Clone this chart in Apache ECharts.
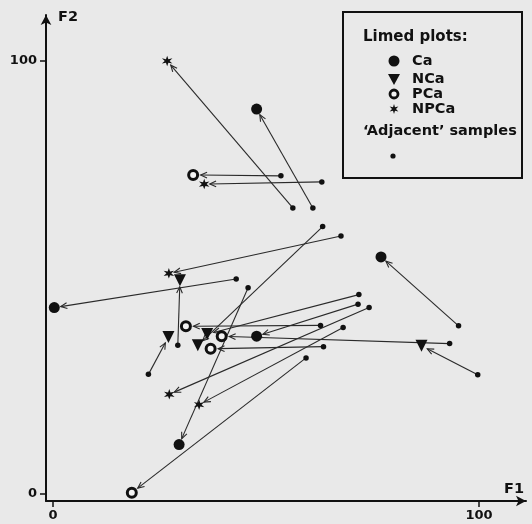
<!DOCTYPE html>
<html><head><meta charset="utf-8">
<script src="https://cdn.jsdelivr.net/npm/echarts@6/dist/echarts.min.js"></script>
<style>html,body{margin:0;padding:0;background:#e9e9e9}#c{width:532px;height:524px}</style>
</head><body><div id="c"></div>
<script>
// [F1, F2] of each 'adjacent' sample and of the corresponding limed plot
const caAdjacent   = [[61.0,66.0],[43.0,49.6],[45.8,47.6],[95.2,38.8],[71.6,43.8]];
const caLimed      = [[47.8,88.8],[0.3,43.0],[29.6,11.4],[77.0,54.7],[47.8,36.4]];
const nCaAdjacent  = [[29.3,34.3],[22.4,27.6],[99.7,27.5],[63.3,61.7],[71.8,46.0]];
const nCaLimed     = [[29.8,49.3],[27.1,36.2],[86.5,34.2],[34.0,34.3],[36.2,36.9]];
const pCaAdjacent  = [[53.5,73.4],[93.1,34.7],[62.8,38.9],[63.5,34.0],[59.4,31.4]];
const pCaLimed     = [[32.9,73.6],[39.6,36.4],[31.2,38.7],[37.0,33.5],[18.5,0.3]];
const npCaAdjacent = [[56.3,66.0],[63.1,72.0],[67.6,59.5],[74.2,43.0],[68.1,38.4]];
const npCaLimed    = [[26.8,99.9],[35.5,71.5],[27.2,50.9],[27.3,23.0],[34.3,20.6]];
const treatmentNames = ['Ca','NCa','PCa','NPCa'];
const xTicks = [0, 100];
const yTicks = [0, 100];

const INK = '#111';
const FONT = '"DejaVu Sans", sans-serif';

// six-point star vertices
function starPoints(cx, cy, R){
  const pts = [];
  for (let i = 0; i < 12; i++) {
    const r = i % 2 === 0 ? R : R*0.4;
    const a = -Math.PI/2 + i * Math.PI/6;
    pts.push([cx + r*Math.cos(a), cy + r*Math.sin(a)]);
  }
  return pts;
}
const STAR = 'path://' + starPoints(10,10,10).map((p,i)=>(i?'L':'M')+p[0].toFixed(2)+' '+p[1].toFixed(2)).join(' ') + ' Z';

const groups = [
  {adj: caAdjacent, lim: caLimed, gap: 6.5},
  {adj: nCaAdjacent, lim: nCaLimed, gap: 6.5},
  {adj: pCaAdjacent, lim: pCaLimed, gap: 7.5},
  {adj: npCaAdjacent, lim: npCaLimed, gap: 5.5}
];
const arrowData = [];
groups.forEach(g => g.adj.forEach((a, i) => {
  arrowData.push([a[0], a[1], g.lim[i][0], g.lim[i][1], g.gap]);
}));
const allAdjacent = [].concat(caAdjacent, nCaAdjacent, pCaAdjacent, npCaAdjacent);

function renderArrow(params, api){
  const p1 = api.coord([api.value(0), api.value(1)]);
  const p2 = api.coord([api.value(2), api.value(3)]);
  const gap = api.value(4);
  const dx = p2[0]-p1[0], dy = p2[1]-p1[1];
  const len = Math.hypot(dx, dy);
  const ux = dx/len, uy = dy/len;
  const ex = p2[0]-ux*gap, ey = p2[1]-uy*gap;
  const ah = 7, ang = 0.42;
  const c = Math.cos(ang), s = Math.sin(ang);
  const bx = -ux, by = -uy;
  const l1 = [ex + ah*(bx*c - by*s), ey + ah*(bx*s + by*c)];
  const l2 = [ex + ah*(bx*c + by*s), ey + ah*(-bx*s + by*c)];
  return {type:'group', children:[
    {type:'line', shape:{x1:p1[0], y1:p1[1], x2:ex, y2:ey}, style:{stroke:'#2a2a2a', lineWidth:1.1}},
    {type:'polyline', shape:{points:[l1,[ex,ey],l2]}, style:{stroke:'#2a2a2a', lineWidth:1.1, fill:null}}
  ]};
}

const axisCommon = {
  type:'value', splitLine:{show:false},
  axisLine:{onZero:false, lineStyle:{color:INK, width:2}, symbol:['none','arrow'], symbolSize:[8,10]},
  axisTick:{length:6, lineStyle:{color:INK, width:1.5}},
  axisLabel:{color:INK, fontFamily:FONT, fontWeight:'bold', fontSize:13}
};

const chart = echarts.init(document.getElementById('c'), null, {renderer:'canvas'});
const LX = 394, TX = 412;
const legendFont = 'bold 14.5px ' + FONT;
chart.setOption({
  backgroundColor:'#e9e9e9',
  animation:false,
  grid:{left:46, right:6, top:15, bottom:23, containLabel:false, outerBoundsMode:'none'},
  xAxis: Object.assign({}, axisCommon, {min:-1.64, max:111.03,
    axisTick: Object.assign({}, axisCommon.axisTick, {customValues:xTicks}),
    axisLabel: Object.assign({}, axisCommon.axisLabel, {customValues:xTicks, margin:8})}),
  yAxis: Object.assign({}, axisCommon, {min:-1.61, max:110.5,
    axisTick: Object.assign({}, axisCommon.axisTick, {customValues:yTicks}),
    axisLabel: Object.assign({}, axisCommon.axisLabel, {customValues:yTicks, margin:9})}),
  series:[
    {type:'custom', renderItem:renderArrow, data:arrowData, encode:{x:[0,2], y:[1,3]}, z:1, silent:true},
    {type:'scatter', name:'Adjacent', data:allAdjacent, symbol:'circle', symbolSize:5.5, itemStyle:{color:INK, opacity:1}, z:3},
    {type:'scatter', name:treatmentNames[0], data:caLimed, symbol:'circle', symbolSize:11, itemStyle:{color:INK, opacity:1}, z:3},
    {type:'scatter', name:treatmentNames[1], data:nCaLimed, symbol:'triangle', symbolRotate:180, symbolSize:[12,12], itemStyle:{color:INK, opacity:1}, z:3},
    {type:'scatter', name:treatmentNames[2], data:pCaLimed, symbol:'circle', symbolSize:9, itemStyle:{color:'#f4f4f4', borderColor:INK, borderWidth:3, opacity:1}, z:3},
    {type:'scatter', name:treatmentNames[3], data:npCaLimed, symbol:STAR, symbolSize:10.5, itemStyle:{color:INK, opacity:1}, z:3}
  ],
  graphic:[
    {type:'text', x:58, y:17, style:{text:'F2', font:'bold 14.5px '+FONT, fill:INK, verticalAlign:'middle'}},
    {type:'text', x:504, y:489, style:{text:'F1', font:'bold 14.5px '+FONT, fill:INK, verticalAlign:'middle'}},
    {type:'rect', shape:{x:343, y:12, width:179, height:166}, style:{stroke:INK, lineWidth:2, fill:null}},
    {type:'text', x:363, y:37, style:{text:'Limed plots:', font:'bold 15px '+FONT, fill:INK, verticalAlign:'middle'}},
    {type:'circle', shape:{cx:LX, cy:61, r:5.5}, style:{fill:INK}},
    {type:'polygon', shape:{points:[[LX-6,74],[LX+6,74],[LX,85]]}, style:{fill:INK}},
    {type:'circle', shape:{cx:LX, cy:94, r:4}, style:{fill:'#f4f4f4', stroke:INK, lineWidth:2.8}},
    {type:'polygon', shape:{points:starPoints(LX, 109, 5)}, style:{fill:INK}},
    {type:'text', x:TX, y:61, style:{text:treatmentNames[0], font:legendFont, fill:INK, verticalAlign:'middle'}},
    {type:'text', x:TX, y:79, style:{text:treatmentNames[1], font:legendFont, fill:INK, verticalAlign:'middle'}},
    {type:'text', x:TX, y:94, style:{text:treatmentNames[2], font:legendFont, fill:INK, verticalAlign:'middle'}},
    {type:'text', x:TX, y:109, style:{text:treatmentNames[3], font:legendFont, fill:INK, verticalAlign:'middle'}},
    {type:'text', x:363, y:131, style:{text:'\u2018Adjacent\u2019 samples', font:'bold 14.5px '+FONT, fill:INK, verticalAlign:'middle'}},
    {type:'circle', shape:{cx:393, cy:156, r:2.6}, style:{fill:INK}}
  ]
});
</script></body></html>
